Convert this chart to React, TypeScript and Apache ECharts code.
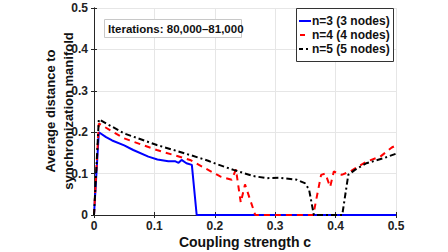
import React, { useEffect, useRef } from "react";
import * as echarts from "echarts";

const xTicks = [0, 0.1, 0.2, 0.3, 0.4, 0.5];
const seriesNames = ["n=3 (3 nodes)", "n=4 (4 nodes)", "n=5 (5 nodes)"];
const seriesColors = ["#0000ff", "#ff0000", "#000000"];

const n3C = [0, 0.008, 0.02, 0.03, 0.05, 0.065, 0.09, 0.105, 0.123, 0.134, 0.14, 0.145, 0.153, 0.162, 0.17, 0.5];
const n3V = [0, 0.2, 0.188, 0.18, 0.168, 0.157, 0.141, 0.134, 0.13, 0.13, 0.126, 0.133, 0.125, 0.121, 0, 0];

const n4C = [0, 0.008, 0.05, 0.104, 0.159, 0.189, 0.209, 0.228, 0.235, 0.243, 0.25, 0.267, 0.363, 0.376, 0.383, 0.391, 0.397, 0.41, 0.424, 0.451, 0.474, 0.493, 0.5];
const n4V = [0, 0.221, 0.185, 0.157, 0.133, 0.109, 0.093, 0.085, 0.11, 0.03, 0.074, 0, 0, 0.097, 0.1, 0.068, 0.105, 0.097, 0.105, 0.129, 0.141, 0.163, 0.168];

const n5C = [0, 0.008, 0.05, 0.104, 0.159, 0.189, 0.203, 0.231, 0.264, 0.286, 0.308, 0.336, 0.349, 0.356, 0.364, 0.411, 0.421, 0.432, 0.451, 0.479, 0.5];
const n5V = [0, 0.231, 0.197, 0.169, 0.145, 0.131, 0.123, 0.109, 0.094, 0.089, 0.09, 0.085, 0.077, 0.062, 0, 0, 0.097, 0.109, 0.125, 0.137, 0.148];

const pairs = (c: number[], v: number[]) => c.map((x, i) => [x, v[i]]);

const FONT = "'Liberation Sans', Arial, Helvetica, sans-serif";

export default function App() {
  const ref = useRef<HTMLDivElement>(null);
  useEffect(() => {
    if (!ref.current) return;
    const chart = echarts.init(ref.current, undefined, { renderer: "svg" });
    const axisCommon = {
      type: "value" as const,
      min: 0,
      max: 0.5,
      interval: 0.1,
      axisLine: { show: true, lineStyle: { color: "#262626", width: 1 } },
      axisTick: { show: true, inside: true, length: 3, lineStyle: { color: "#262626" } },
    };
    const legendRows = [21, 35, 49];
    const legendDash: (number[] | null)[] = [null, [5, 10], [4, 3, 2, 3]];
    const legendGraphics: any[] = [
      {
        type: "rect",
        shape: { x: 296.5, y: 8.5, width: 97, height: 53 },
        style: { fill: "#ffffff", stroke: "#333333", lineWidth: 1 },
        z: 10,
      },
    ];
    seriesNames.forEach((name, i) => {
      legendGraphics.push({
        type: "line",
        shape: { x1: 299, y1: legendRows[i], x2: 311, y2: legendRows[i] },
        style: {
          stroke: seriesColors[i],
          lineWidth: 2,
          lineDash: legendDash[i] ?? undefined,
          lineDashOffset: i === 1 ? -1 : 0,
        },
        z: 11,
      });
      legendGraphics.push({
        type: "text",
        x: 312,
        y: legendRows[i],
        z: 11,
        style: {
          text: name,
          fontFamily: FONT,
          fontWeight: "bold",
          fontSize: 12,
          fill: "#111",
          verticalAlign: "middle",
        },
      });
    });
    chart.setOption({
      animation: false,
      backgroundColor: "#ffffff",
      grid: { left: 94, top: 8, width: 302, height: 207, show: false },
      xAxis: [
        {
          ...axisCommon,
          position: "bottom",
          splitLine: { show: true, lineStyle: { color: "#e6e6e6" } },
          axisLabel: {
            fontFamily: FONT,
            fontWeight: "bold",
            fontSize: 12,
            color: "#222",
            margin: 5,
            formatter: (v: number) => String(xTicks.find((t) => Math.abs(t - v) < 1e-9) ?? v),
          },
        },
        {
          ...axisCommon,
          position: "top",
          splitLine: { show: false },
          axisLabel: { show: false },
        },
      ],
      yAxis: [
        {
          ...axisCommon,
          position: "left",
          splitLine: { show: true, lineStyle: { color: "#e6e6e6" } },
          axisLabel: {
            fontFamily: FONT,
            fontWeight: "bold",
            fontSize: 12,
            color: "#222",
            margin: 6,
            formatter: (v: number) => String(Math.round(v * 10) / 10),
          },
        },
        {
          ...axisCommon,
          position: "right",
          splitLine: { show: false },
          axisLabel: { show: false },
        },
      ],
      graphic: [
        {
          type: "text",
          x: 245,
          y: 242,
          style: {
            text: "Coupling strength c",
            fontFamily: FONT,
            fontWeight: "bold",
            fontSize: 14,
            fill: "#111",
            align: "center",
            verticalAlign: "middle",
          },
        },
        {
          type: "text",
          x: 50,
          y: 111,
          rotation: Math.PI / 2,
          style: {
            text: "Average distance to",
            fontFamily: FONT,
            fontWeight: "bold",
            fontSize: 13,
            fill: "#111",
            align: "center",
            verticalAlign: "middle",
          },
        },
        {
          type: "text",
          x: 68,
          y: 111,
          rotation: Math.PI / 2,
          style: {
            text: "synchronization manifold",
            fontFamily: FONT,
            fontWeight: "bold",
            fontSize: 13,
            fill: "#111",
            align: "center",
            verticalAlign: "middle",
          },
        },
        {
          type: "rect",
          shape: { x: 104.5, y: 19.5, width: 137, height: 18 },
          style: { fill: "#ffffff", stroke: "#c8c8c8", lineWidth: 1 },
          z: 10,
        },
        {
          type: "text",
          x: 108,
          y: 28.5,
          z: 11,
          style: {
            text: "Iterations: 80,000\u201381,000",
            fontFamily: FONT,
            fontWeight: "bold",
            fontSize: 11.5,
            fill: "#111",
            verticalAlign: "middle",
          },
        },
        ...legendGraphics,
      ],
      series: [
        {
          name: seriesNames[0],
          type: "line",
          data: pairs(n3C, n3V),
          showSymbol: false,
          symbol: "none",
          clip: false,
          lineStyle: { color: seriesColors[0], width: 2 },
          itemStyle: { color: seriesColors[0] },
          z: 3,
        },
        {
          name: seriesNames[1],
          type: "line",
          data: pairs(n4C, n4V),
          showSymbol: false,
          symbol: "none",
          clip: false,
          lineStyle: { color: seriesColors[1], width: 2, type: [6, 5] },
          itemStyle: { color: seriesColors[1] },
          z: 4,
        },
        {
          name: seriesNames[2],
          type: "line",
          data: pairs(n5C, n5V),
          showSymbol: false,
          symbol: "none",
          clip: false,
          lineStyle: { color: seriesColors[2], width: 2, type: [6, 3, 2, 3] },
          itemStyle: { color: seriesColors[2] },
          z: 5,
        },
      ],
    });
    return () => chart.dispose();
  }, []);
  return <div ref={ref} style={{ width: 448, height: 252, position: "absolute", left: 0, top: 0 }} />;
}
